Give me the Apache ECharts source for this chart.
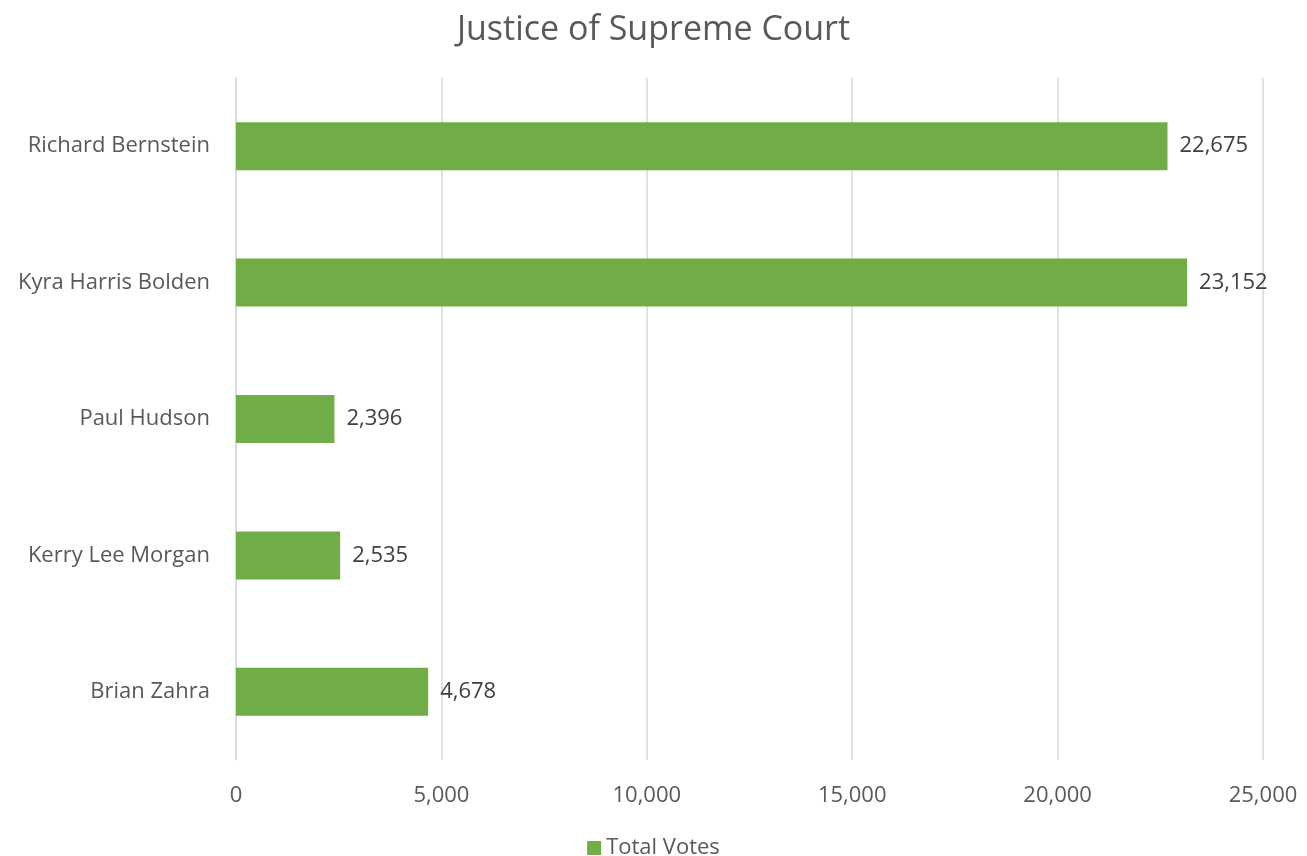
<!DOCTYPE html>
<html>
<head>
<meta charset="utf-8">
<script src="https://cdn.jsdelivr.net/npm/echarts@6/dist/echarts.min.js"></script>
<style>
  html, body { margin: 0; padding: 0; background: #fff; }
  #chart { width: 1307px; height: 856px; }
</style>
</head>
<body>
<div id="chart"></div>
<script>
// categories from bottom to top, as in the source sheet
const candidates = ['Brian Zahra', 'Kerry Lee Morgan', 'Paul Hudson', 'Kyra Harris Bolden', 'Richard Bernstein']
const totalVotes = [4678, 2535, 2396, 23152, 22675]
const xTicks = [0, 5000, 10000, 15000, 20000, 25000]

const fontFamily = '"Open Sans", Lato, sans-serif'
const chart = echarts.init(document.getElementById('chart'))

chart.setOption({
  animation: false,
  textStyle: { fontFamily: fontFamily },
  title: {
    text: 'Justice of Supreme Court',
    left: 'center',
    top: 8,
    textStyle: { color: '#595959', fontSize: 34, fontWeight: 'normal', fontFamily: fontFamily }
  },
  legend: {
    top: 832,
    left: 'center',
    icon: 'rect',
    itemWidth: 14,
    itemHeight: 14,
    itemGap: 6,
    textStyle: { color: '#595959', fontSize: 22, fontFamily: fontFamily },
    data: ['Total Votes']
  },
  grid: { left: 236, right: 44, top: 78, bottom: 96 },
  xAxis: {
    type: 'value',
    min: xTicks[0],
    max: xTicks[xTicks.length - 1],
    interval: 5000,
    axisLine: { show: false },
    axisTick: { show: false },
    splitLine: { lineStyle: { color: '#d9d9d9', width: 1.5 } },
    axisLabel: {
      color: '#595959',
      fontSize: 22,
      margin: 25,
      formatter: v => v.toLocaleString('en-US')
    }
  },
  yAxis: {
    type: 'category',
    data: candidates,
    axisLine: { show: true, lineStyle: { color: '#d9d9d9', width: 1.5 } },
    axisTick: { show: false },
    axisLabel: { color: '#595959', fontSize: 22, margin: 26, padding: [5, 0, 0, 0] }
  },
  series: [{
    name: 'Total Votes',
    type: 'bar',
    data: totalVotes,
    barWidth: 48,
    itemStyle: { color: '#70ad47' },
    label: {
      show: true,
      position: 'right',
      distance: 12,
      color: '#404040',
      fontSize: 22,
      padding: [5, 0, 0, 0],
      formatter: p => p.value.toLocaleString('en-US')
    }
  }]
})
</script>
</body>
</html>
